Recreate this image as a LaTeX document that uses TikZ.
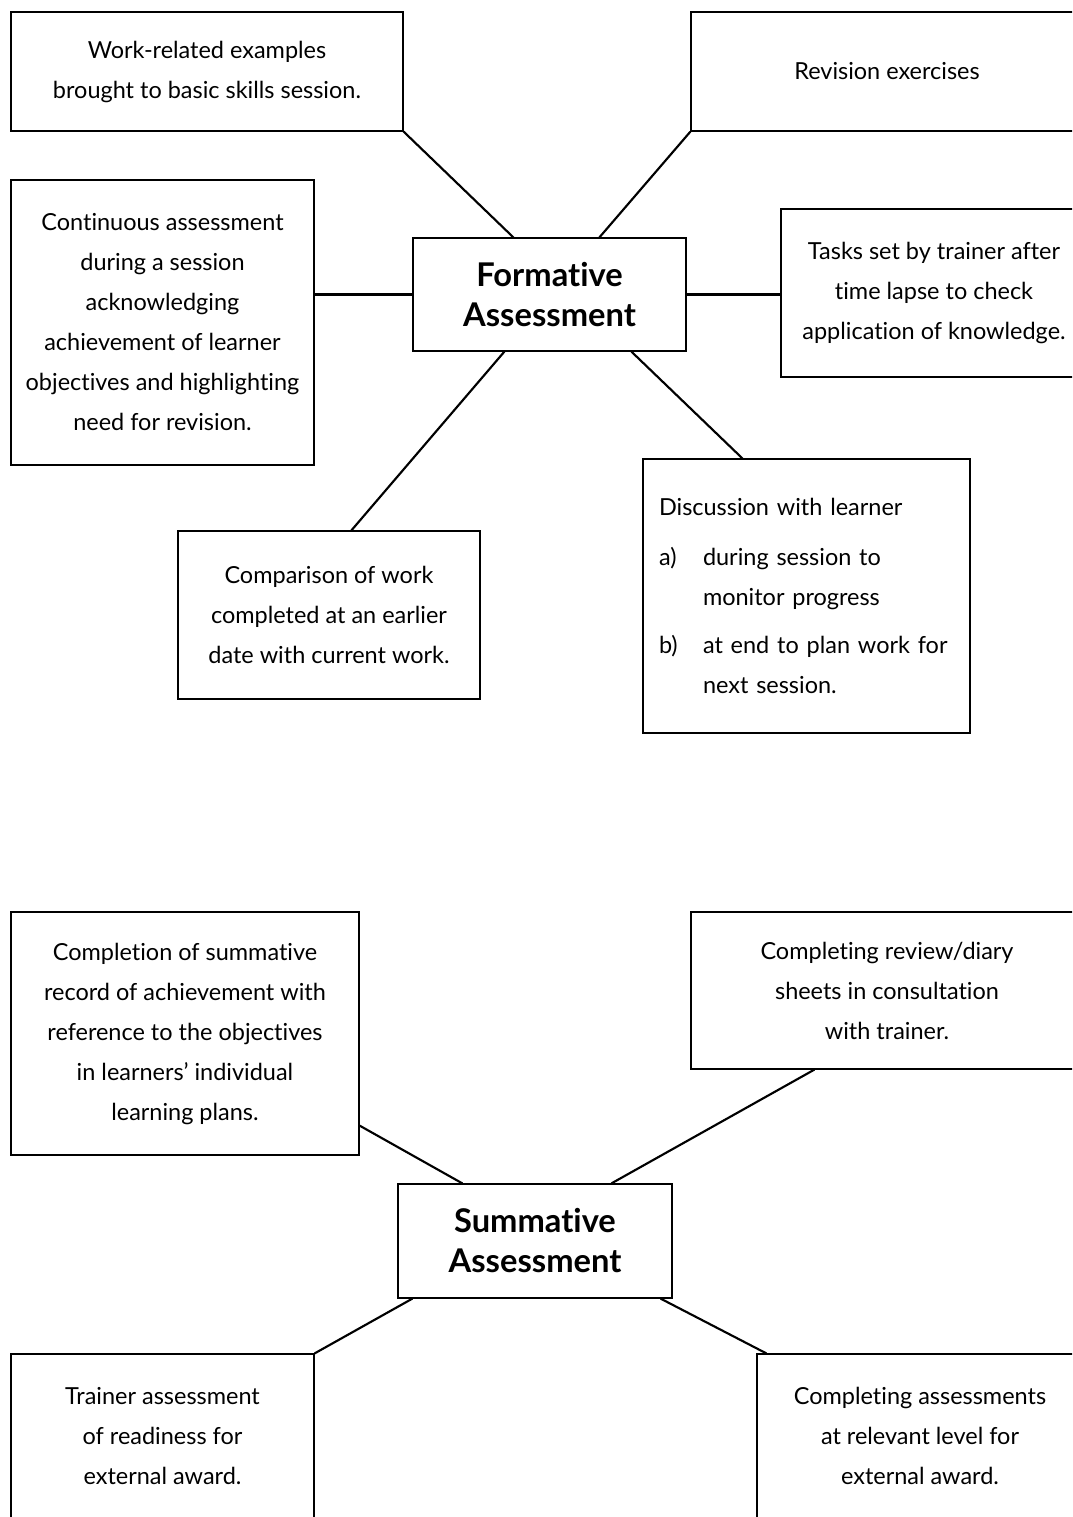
\documentclass[tikz,border=0pt]{standalone}
\usepackage{fontspec}
\setmainfont[Ligatures=NoCommon]{Lato}
\usetikzlibrary{calc}

% Box placed by its corner coordinates (in pixel units): name, x1, y1, x2, y2, extra options, text
\newcommand\boxat[7]{%
  \node[box,#6,minimum width={(#4-#2)*0.75pt},minimum height={(#5-#3)*0.75pt}]
    (#1) at ({(#2+#4)/2},{(#3+#5)/2}) {#7};}

\tikzset{
  box/.style={draw, line width=0.9pt, inner sep=0pt, align=center,
    font=\fontsize{17.6}{30}\selectfont},
  hub/.style={font=\fontsize{24.5}{30}\selectfont\bfseries},
  link/.style={line width=1.6pt}
}

\begin{document}
\begin{tikzpicture}[x=0.75pt,y=-0.75pt]
\useasboundingbox (0,0) rectangle (1072,1517);
\clip (0,0) rectangle (1072,1517);

% Formative assessment cluster
\boxat{form}{413}{238}{686}{351}{hub}{Formative\\Assessment}
\boxat{work}{11}{12}{403}{131}{}{Work-related examples\\brought to basic skills session.}
\boxat{rev}{691}{12}{1083}{131}{}{Revision exercises}
\boxat{cont}{11}{180}{314}{465}{}{Continuous assessment\\during a session\\acknowledging\\achievement of learner\\objectives and highlighting\\need for revision.}
\boxat{tasks}{781}{209}{1087}{377}{}{Tasks set by trainer after\\time lapse to check\\application of knowledge.}
\boxat{disc}{643}{459}{970}{733}{align=left,text width={(970-643-32)*0.75pt},inner xsep={16*0.75pt}}{%
  Discussion with learner\\[7pt]
  \makebox[33pt][l]{a)}during session to\\
  \hspace*{33pt}monitor progress\\[6pt]
  \makebox[33pt][l]{b)}at end to plan work for\\
  \hspace*{33pt}next session.}
\boxat{comp}{178}{531}{480}{699}{}{Comparison of work\\completed at an earlier\\date with current work.}

\draw[link] (work.south east) -- ($(form.north west)+(101,0)$);
\draw[link] (rev.south west) -- ($(form.north west)+(187,0)$);
\draw[link] (form.west) -- (form.west -| cont.east);
\draw[link] (form.east) -- (form.east -| tasks.west);
\draw[link] ($(form.south west)+(219,0)$) -- ($(disc.north west)+(100,0)$);
\draw[link] ($(form.south west)+(92,0)$) -- ($(comp.north west)+(174,0)$);

% Summative assessment cluster
\boxat{summ}{398}{1184}{672}{1298}{hub}{Summative\\Assessment}
\boxat{rec}{11}{912}{359}{1155}{}{Completion of summative\\record of achievement with\\reference to the objectives\\in learners' individual\\learning plans.}
\boxat{diary}{691}{912}{1083}{1069}{}{Completing review/diary\\sheets in consultation\\with trainer.}
\boxat{ready}{11}{1354}{314}{1518}{}{Trainer assessment\\of readiness for\\external award.}
\boxat{level}{757}{1354}{1083}{1518}{}{Completing assessments\\at relevant level for\\external award.}

\draw[link] ($(rec.south east)+(0,-30)$) -- ($(summ.north west)+(65,0)$);
\draw[link] ($(diary.south west)+(124,0)$) -- ($(summ.north west)+(214,0)$);
\draw[link] ($(summ.south west)+(15,0)$) -- (ready.north east);
\draw[link] ($(summ.south east)+(-12,0)$) -- ($(level.north west)+(10,0)$);
\end{tikzpicture}
\end{document}
